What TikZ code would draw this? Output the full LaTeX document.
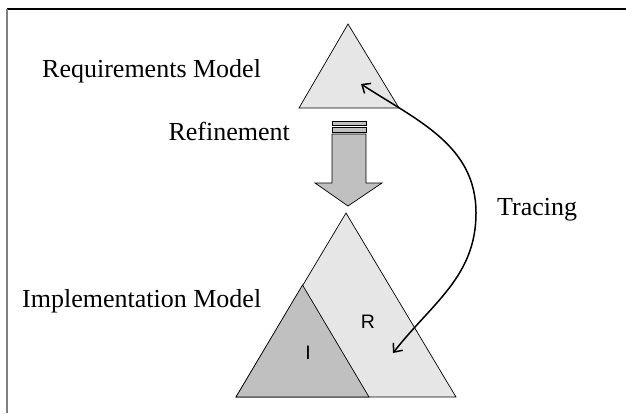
\documentclass[tikz,border=0pt]{standalone}
\usepackage{fontspec}
\setmainfont{Liberation Serif}
\newfontfamily\helv{Liberation Sans}
\usetikzlibrary{arrows.meta}
\definecolor{lightfill}{HTML}{E6E6E6}
\definecolor{darkfill}{HTML}{C0C0C0}
\begin{document}
\begin{tikzpicture}[x=1pt,y=-1pt,
  shape line/.style={draw=black,line width=0.7pt,line join=miter},
  lbl/.style={inner sep=0pt,font=\fontsize{26}{28}\selectfont},
  sanslbl/.style={inner sep=0pt,font=\helv\fontsize{19.5}{22}\selectfont},
  trace/.style={line width=1.5pt,{Straight Barb[length=7pt,width=12pt,line width=1.5pt]}-{Straight Barb[length=7pt,width=12pt,line width=1.5pt]}}]
\useasboundingbox (0,0) rectangle (626,413);
% frame
\draw[line width=1.3pt,black] (7,9) -- (626,9);
\draw[line width=2pt,gray] (7,9) -- (7,413);
% requirements triangle
\filldraw[shape line,fill=lightfill] (348,24) -- (399,108) -- (299,108) -- cycle;
% refinement arrow
\filldraw[shape line,fill=darkfill] (332,121) rectangle (366,125.5);
\filldraw[shape line,fill=darkfill] (332,127) rectangle (366,132.5);
\filldraw[shape line,fill=darkfill] (332,134) -- (366,134) -- (366,183) -- (382,183) -- (348,206) -- (315,183) -- (332,183) -- cycle;
% implementation triangle
\filldraw[shape line,fill=lightfill] (346,213) -- (456,397) -- (236,397) -- cycle;
\filldraw[shape line,fill=darkfill] (302.5,285) -- (369,397) -- (236,397) -- cycle;
% labels
\node[lbl,anchor=base west] (req) at (42,77.7) {Requirements Model};
\node[lbl,anchor=base east] (ref) at (290,140) {Refinement};
\node[lbl,anchor=base west] (imp) at (22,307) {Implementation Model};
\node[lbl,anchor=base west] (tr) at (497,215) {Tracing};
\node[sanslbl] (R) at (368,322) {R};
\node[sanslbl] (I) at (308,353) {I};
% tracing connector
\coordinate (rtip) at (361,84);
\coordinate (itip) at (393,353);
\draw[trace] (rtip) to[out=-33,in=90] (476,213) to[out=-90,in=52] (itip);
\end{tikzpicture}
\end{document}
